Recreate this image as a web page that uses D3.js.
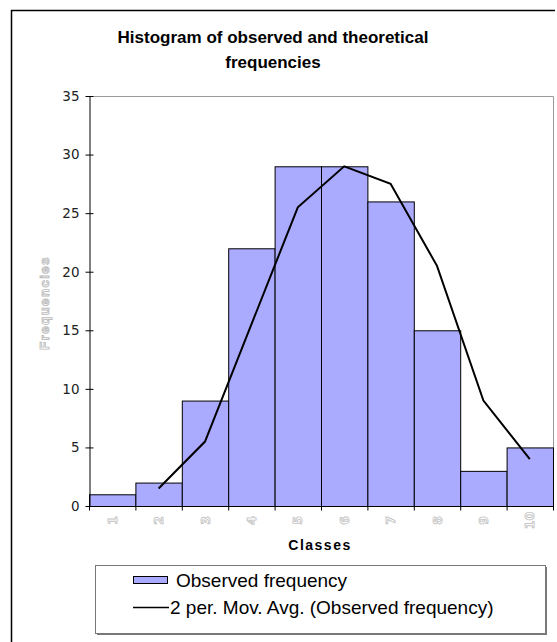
<!DOCTYPE html>
<html>
<head>
<meta charset="utf-8">
<script src="https://cdn.jsdelivr.net/npm/d3@7/dist/d3.min.js"></script>
<style>
  html, body { margin: 0; padding: 0; background: #fff; }
  svg { display: block; font-family: "Liberation Sans", Arial, sans-serif; }
</style>
</head>
<body>
<svg id="chart" width="557" height="642"></svg>
<script>
// Classes and observed frequencies
const classes = ["1", "2", "3", "4", "5", "6", "7", "8", "9", "10"];
const observed = [1, 2, 9, 22, 29, 29, 26, 15, 3, 5];
const yTicks = [0, 5, 10, 15, 20, 25, 30, 35];
const titleLines = ["Histogram of observed and theoretical", "frequencies"];
const legendLabels = ["Observed frequency", "2 per. Mov. Avg. (Observed frequency)"];

// 2-period moving average, drawn from the second class onward
const movAvg = observed.map((v, i) => i === 0 ? null : (v + observed[i - 1]) / 2);

const svg = d3.select("#chart");
const plot = { left: 89, right: 553, top: 96, bottom: 506 };

const x = d3.scaleBand().domain(classes).range([plot.left, plot.right]).padding(0);
const y = d3.scaleLinear().domain([0, 35]).range([plot.bottom, plot.top]);

// Outer frame (left and top edges)
svg.append("path")
  .attr("d", "M11.5,642 L11.5,10.5 L555,10.5")
  .attr("fill", "none").attr("stroke", "#000").attr("stroke-width", 1.5);

// Title
const title = svg.append("text")
  .attr("text-anchor", "middle")
  .attr("font-weight", "bold").attr("font-size", 17).attr("fill", "#000");
titleLines.forEach((t, i) => {
  title.append("tspan").attr("x", 273).attr("y", 43 + i * 25).text(t);
});

// Plot area border (top and right, grey)
svg.append("path")
  .attr("d", `M${plot.left},${plot.top + 0.5} L${plot.right + 0.5},${plot.top + 0.5} L${plot.right + 0.5},${plot.bottom}`)
  .attr("fill", "none").attr("stroke", "#9a9a9a").attr("stroke-width", 1);

// Bars
svg.append("g").selectAll("rect")
  .data(observed)
  .join("rect")
  .attr("x", (d, i) => x(classes[i]) + 0.5)
  .attr("y", d => y(d) + 0.5)
  .attr("width", x.bandwidth())
  .attr("height", d => y(0) - y(d))
  .attr("fill", "#aaaaff")
  .attr("stroke", "#000").attr("stroke-width", 1);

// Moving average line
const line = d3.line()
  .defined(d => d.v !== null)
  .x(d => x(d.c) + x.bandwidth() / 2)
  .y(d => y(d.v));
svg.append("path")
  .datum(classes.map((c, i) => ({ c, v: movAvg[i] })))
  .attr("d", line)
  .attr("fill", "none").attr("stroke", "#000").attr("stroke-width", 2);

// Y axis
const yAxis = svg.append("g")
  .attr("transform", `translate(${plot.left + 0.5},0)`)
  .call(d3.axisLeft(y).tickValues(yTicks).tickSize(4).tickSizeOuter(0).tickPadding(6));
yAxis.select(".domain").attr("stroke", "#000");
yAxis.selectAll(".tick line").attr("x1", -4).attr("x2", 4).attr("stroke", "#000");
yAxis.selectAll(".tick text")
  .attr("font-family", "'DejaVu Sans', Verdana, sans-serif")
  .attr("font-size", 13.5).attr("fill", "#222");

// X axis: ticks at the class boundaries
const xAxis = svg.append("g")
  .attr("transform", `translate(0,${plot.bottom + 0.5})`);
xAxis.append("line")
  .attr("x1", plot.left).attr("x2", plot.right + 1)
  .attr("stroke", "#000");
const bounds = classes.map(c => x(c)).concat([x(classes[classes.length - 1]) + x.bandwidth()]);
xAxis.selectAll("line.tk")
  .data(bounds)
  .join("line").attr("class", "tk")
  .attr("x1", d => d + 0.5).attr("x2", d => d + 0.5)
  .attr("y1", 0).attr("y2", 4)
  .attr("stroke", "#000");
xAxis.selectAll("text")
  .data(classes)
  .join("text")
  .attr("transform", d => `translate(${x(d) + x.bandwidth() / 2 + 4.5},${14}) rotate(-90)`)
  .attr("text-anchor", "middle")
  .attr("font-family", "'DejaVu Sans', Verdana, sans-serif")
  .attr("font-size", 12.5).attr("font-weight", "bold")
  .attr("fill", "#fff").attr("stroke", "#c4c4c4").attr("stroke-width", 0.9)
  .text(d => d);

// Axis titles
svg.append("text")
  .attr("x", 320).attr("y", 550)
  .attr("text-anchor", "middle")
  .attr("font-weight", "bold").attr("font-size", 14).attr("letter-spacing", 1.5)
  .attr("fill", "#000")
  .text("Classes");
svg.append("text")
  .attr("transform", "translate(49,303) rotate(-90)")
  .attr("text-anchor", "middle")
  .attr("font-weight", "bold").attr("font-size", 13.5).attr("letter-spacing", 1.3)
  .attr("fill", "#fff").attr("stroke", "#bdbdbd").attr("stroke-width", 0.9)
  .text("Frequencies");

// Legend
const lg = svg.append("g");
lg.append("rect")
  .attr("x", 97).attr("y", 567).attr("width", 450).attr("height", 68)
  .attr("fill", "#7a7a7a");
lg.append("rect")
  .attr("x", 95.5).attr("y", 565.5).attr("width", 450).attr("height", 68)
  .attr("fill", "#fff").attr("stroke", "#777").attr("stroke-width", 1);
lg.append("rect")
  .attr("x", 133.5).attr("y", 576.5).attr("width", 34).attr("height", 7)
  .attr("fill", "#aaaaff").attr("stroke", "#000").attr("stroke-width", 1);
lg.append("line")
  .attr("x1", 133).attr("x2", 169).attr("y1", 607.5).attr("y2", 607.5)
  .attr("stroke", "#000").attr("stroke-width", 1.5);
lg.selectAll("text")
  .data(legendLabels)
  .join("text")
  .attr("x", (d, i) => i === 0 ? 176 : 170)
  .attr("y", (d, i) => 587 + i * 27)
  .attr("font-size", 19).attr("fill", "#000")
  .text(d => d);
</script>
</body>
</html>
